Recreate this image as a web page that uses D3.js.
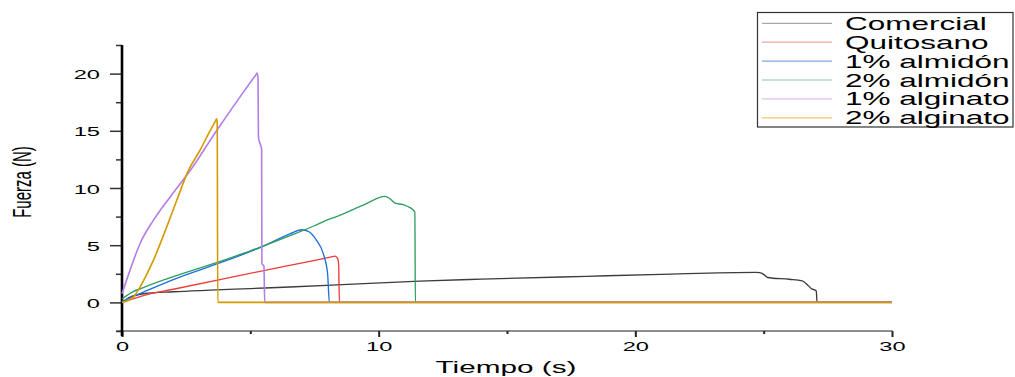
<!DOCTYPE html>
<html>
<head>
<meta charset="utf-8">
<script src="https://cdn.jsdelivr.net/npm/d3@7"></script>
<style>
  body { margin: 0; background: #fff; }
  svg { display: block; }
  text { font-family: "Liberation Sans", Arial, sans-serif; fill: #000; }
</style>
</head>
<body>
<svg id="chart" width="1015" height="377"></svg>
<script>
// ---- Data (tiempo s, fuerza N) ----
const seriesNames = ["Comercial", "Quitosano", "1% almidón", "2% almidón", "1% alginato", "2% alginato"];

const comercial = [[0,0],[0.3,0.45],[0.83,0.76],[2,0.93],[3.43,1.07],[5,1.21],[6.54,1.35],[9,1.6],[11.6,1.86],[14,2.03],[18.1,2.28],[21,2.45],[24.7,2.62],[24.85,2.6],[25.0,2.45],[25.15,2.18],[26.0,2.02],[26.5,1.88],[26.7,1.55],[26.85,1.22],[27.05,1.0],[27.08,0],[30,0]];
const quitosano = [[0,0],[0.83,0.6],[2,1.15],[4,2.08],[6,3.0],[8.2,4.0],[8.3,4.05],[8.4,3.85],[8.44,3.4],[8.47,0],[30,0]];
const almidon1 = [[0,0.1],[0.83,0.9],[2,2.0],[4,3.6],[5.5,4.9],[6.54,6.0],[7.0,6.35],[7.3,6.15],[7.58,5.42],[7.84,4.28],[8.01,2.53],[8.08,0],[30,0]];
const almidon2 = [[0,0.3],[0.4,0.9],[0.83,1.3],[2,2.25],[4,3.72],[5,4.5],[6.15,5.48],[6.8,6.06],[7.5,6.7],[8.1,7.3],[8.36,7.5],[9.4,8.5],[10.25,9.27],[10.44,9.06],[10.64,8.68],[10.96,8.54],[11.22,8.28],[11.41,7.9],[11.43,0],[30,0]];
const alginato1 = [[0,0.76],[0.31,2.8],[0.7,5.13],[1.22,7.17],[1.87,9.2],[2.65,11.5],[3.69,15.03],[4.21,16.72],[4.8,18.6],[5.22,19.9],[5.27,20.05],[5.30,19.5],[5.315,14.5],[5.36,14.0],[5.44,13.4],[5.45,3.4],[5.53,3.15],[5.56,0],[30,0]];
const alginato2 = [[0,0],[0.44,0.46],[0.7,1.34],[1.22,3.67],[1.74,6.58],[2.13,8.9],[2.58,11.5],[3.04,13.3],[3.43,15.0],[3.64,15.85],[3.69,16.05],[3.71,15.6],[3.73,0],[30,0]];

const seriesData = [comercial, quitosano, almidon1, almidon2, alginato1, alginato2];
const lineColors = ["#3c3c3c", "#ee3a3a", "#1e6fdc", "#2e9e5e", "#b37de8", "#d49a00"];
const legendColors = ["#a8a8a8", "#f3a3a3", "#7ea9e4", "#86c7a2", "#dcc0f2", "#f0c862"];

const xTicksMajor = [0, 10, 20, 30];
const xTicksMinor = [5, 15, 25];
const yTicksMajor = [0, 5, 10, 15, 20];
const yTicksMinor = [-2.5, 2.5, 7.5, 12.5, 17.5, 22.5];

// ---- Layout ----
const svg = d3.select("#chart");
const SX = 1.75; // horizontal stretch of text in the original

const x = d3.scaleLinear().domain([0, 30]).range([122, 892]);
const y = d3.scaleLinear().domain([-2.5, 22.5]).range([331, 45]);

// X axis line (gray)
svg.append("line")
  .attr("x1", 116.5).attr("x2", x(30) + 0.5)
  .attr("y1", y(-2.5)).attr("y2", y(-2.5))
  .attr("stroke", "#6a6a6a").attr("stroke-width", 1.6);

// X axis ticks and labels
const xAxis = svg.append("g").attr("transform", `translate(0,${y(-2.5)})`)
  .call(d3.axisBottom(x).tickValues(xTicksMajor).tickSize(6).tickFormat(d3.format("d")));
xAxis.select(".domain").remove();
xAxis.selectAll(".tick line").attr("stroke", "#222").attr("stroke-width", 2);
xAxis.selectAll(".tick text")
  .attr("y", 0).attr("dy", null)
  .attr("transform", `translate(0,20) scale(${SX},1)`)
  .style("font-size", "13.5px").style("font-family", '"Liberation Sans", Arial, sans-serif').attr("fill", "#000");
const xMinor = svg.append("g").attr("transform", `translate(0,${y(-2.5)})`)
  .call(d3.axisBottom(x).tickValues(xTicksMinor).tickSize(3).tickFormat(""));
xMinor.select(".domain").remove();
xMinor.selectAll(".tick line").attr("stroke", "#222").attr("stroke-width", 2);

// Y axis
const yAxis = svg.append("g").attr("transform", `translate(${x(0)},0)`)
  .call(d3.axisLeft(y).tickValues(yTicksMajor).tickSize(12).tickFormat(d3.format("d")));
yAxis.select(".domain").remove();
yAxis.selectAll(".tick line").attr("stroke", "#333").attr("stroke-width", 1.5);
yAxis.selectAll(".tick text")
  .attr("x", 0).attr("dy", null)
  .attr("transform", `translate(-22,5) scale(${SX},1)`)
  .style("font-size", "13.5px").style("font-family", '"Liberation Sans", Arial, sans-serif').attr("fill", "#000");
const yMinor = svg.append("g").attr("transform", `translate(${x(0)},0)`)
  .call(d3.axisLeft(y).tickValues(yTicksMinor).tickSize(6).tickFormat(""));
yMinor.select(".domain").remove();
yMinor.selectAll(".tick line").attr("stroke", "#333").attr("stroke-width", 1.5);

// Y axis line (black, thick)
svg.append("line")
  .attr("x1", x(0)).attr("x2", x(0))
  .attr("y1", y(22.5)).attr("y2", y(-2.5) + 5)
  .attr("stroke", "#000").attr("stroke-width", 2.6);

// ---- Lines ----
const line = d3.line().x(d => x(d[0])).y(d => y(d[1])).curve(d3.curveMonotoneX);
seriesData.forEach((s, i) => {
  svg.append("path")
    .datum(s)
    .attr("d", line)
    .attr("fill", "none")
    .attr("stroke", lineColors[i])
    .attr("stroke-width", i >= 4 ? 1.6 : 1.35)
    .attr("stroke-linejoin", "round");
});

// ---- Axis titles ----
svg.append("text")
  .attr("transform", `translate(506,372.5) scale(${SX},1)`)
  .attr("text-anchor", "middle")
  .style("font-size", "17px")
  .text("Tiempo (s)");

svg.append("text")
  .attr("transform", `translate(31,182) scale(${SX},1) rotate(-90)`)
  .attr("text-anchor", "middle")
  .style("font-size", "15px")
  .text("Fuerza (N)");

// ---- Legend ----
const lg = svg.append("g");
lg.append("rect")
  .attr("x", 757.5).attr("y", 12.5).attr("width", 255.5).attr("height", 114.5)
  .attr("fill", "#fff").attr("stroke", "#333").attr("stroke-width", 1.2);
seriesNames.forEach((n, i) => {
  const yy = 23.3 + i * 18.9;
  lg.append("line")
    .attr("x1", 762).attr("x2", 832)
    .attr("y1", yy).attr("y2", yy)
    .attr("stroke", legendColors[i]).attr("stroke-width", 1.2);
  lg.append("text")
    .attr("transform", `translate(845,${yy + 6.5}) scale(${SX},1)`)
    .style("font-size", "18px")
    .text(n);
});
</script>
</body>
</html>
